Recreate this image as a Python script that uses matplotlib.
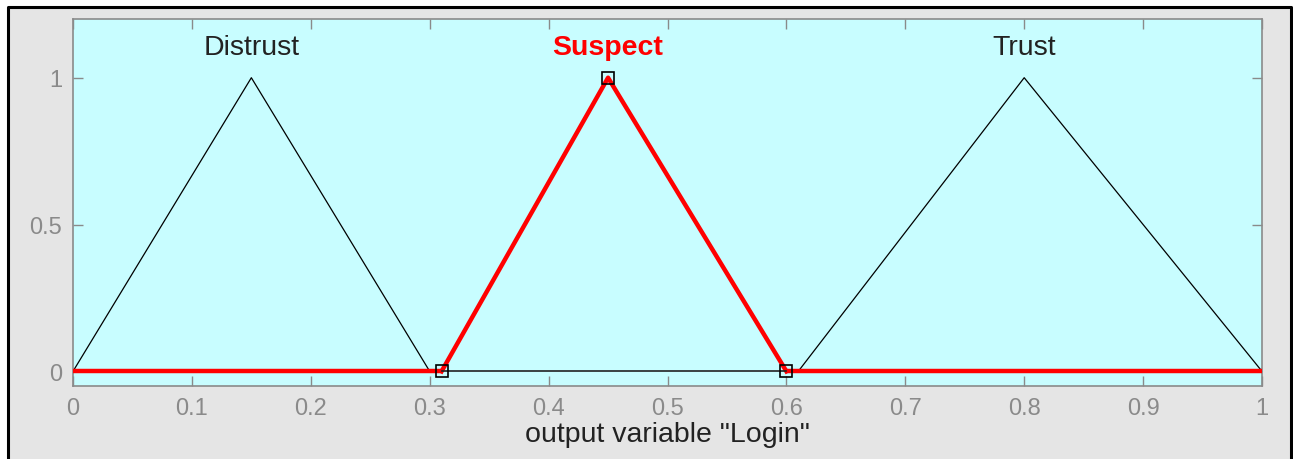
import matplotlib.pyplot as plt
from matplotlib.patches import Rectangle

# membership functions of output variable "Login"
mf_names = ['Distrust', 'Suspect', 'Trust']
mf_params = [[0.0, 0.15, 0.30],
             [0.31, 0.45, 0.60],
             [0.61, 0.80, 1.00]]
selected = 'Suspect'

xticks = [0, 0.1, 0.2, 0.3, 0.4, 0.5, 0.6, 0.7, 0.8, 0.9, 1]
xticklabels = ['0', '0.1', '0.2', '0.3', '0.4', '0.5', '0.6', '0.7', '0.8', '0.9', '1']
yticks = [0, 0.5, 1]
yticklabels = ['0', '0.5', '1']

plt.rcParams['font.family'] = ['Liberation Sans', 'DejaVu Sans']

W, H = 1293, 460
fig = plt.figure(figsize=(W / 100, H / 100), dpi=100)
fig.patch.set_facecolor('white')

# grey panel with black frame (open at the bottom)
fig.add_artist(Rectangle((7 / W, 0), (1291 - 7) / W, 1 - 8 / H,
                         transform=fig.transFigure, facecolor='#e5e5e5',
                         edgecolor='none', zorder=-2))
fig.add_artist(plt.Line2D([7.5 / W, 7.5 / W, 1290.5 / W, 1290.5 / W],
                          [0, 1 - 8 / H, 1 - 8 / H, 0],
                          transform=fig.transFigure, color='black', lw=2.2,
                          zorder=-1))

ax = fig.add_axes([73 / W, 1 - 387 / H, (1262 - 73) / W, (387 - 20) / H])
ax.set_facecolor('#c8fdff')

for name, (a, b, c) in zip(mf_names, mf_params):
    ax.plot([a, b, c], [0, 1, 0], color='black', lw=0.9, zorder=2)
    ax.text(b, 1.105, name, ha='center', va='center', fontsize=20.5,
            color='red' if name == selected else '#222222',
            fontweight='bold' if name == selected else 'normal')

# highlighted membership function
a, b, c = mf_params[mf_names.index(selected)]
ax.plot([0, a], [0, 0], color='red', lw=3.2, solid_capstyle='butt', zorder=3)
ax.plot([c, 1], [0, 0], color='red', lw=3.2, solid_capstyle='butt', zorder=3)
ax.plot([a, b, c], [0, 1, 0], color='red', lw=3.2, zorder=3)
ax.plot([a, c], [0, 0], color='#222222', lw=1.2, zorder=3)
ax.plot([a, b, c], [0, 1, 0], ls='none', marker='s', ms=8, mfc='none',
        mec='black', mew=1.2, zorder=4)

ax.set_xlim(0, 1)
ax.set_ylim(-0.05, 1.2)
ax.set_xticks(xticks)
ax.set_xticklabels(xticklabels)
ax.set_yticks(yticks)
ax.set_yticklabels(yticklabels)
ax.tick_params(direction='in', length=7, width=1, colors='#8a8a8a',
               labelsize=17, top=True, right=True, pad=8)
for s in ax.spines.values():
    s.set_color('#8a8a8a')
    s.set_linewidth(1.2)

ax.set_xlabel('output variable "Login"', fontsize=20.5, color='#222222', labelpad=1)

fig.savefig('out.png', dpi=100, facecolor=fig.get_facecolor())
